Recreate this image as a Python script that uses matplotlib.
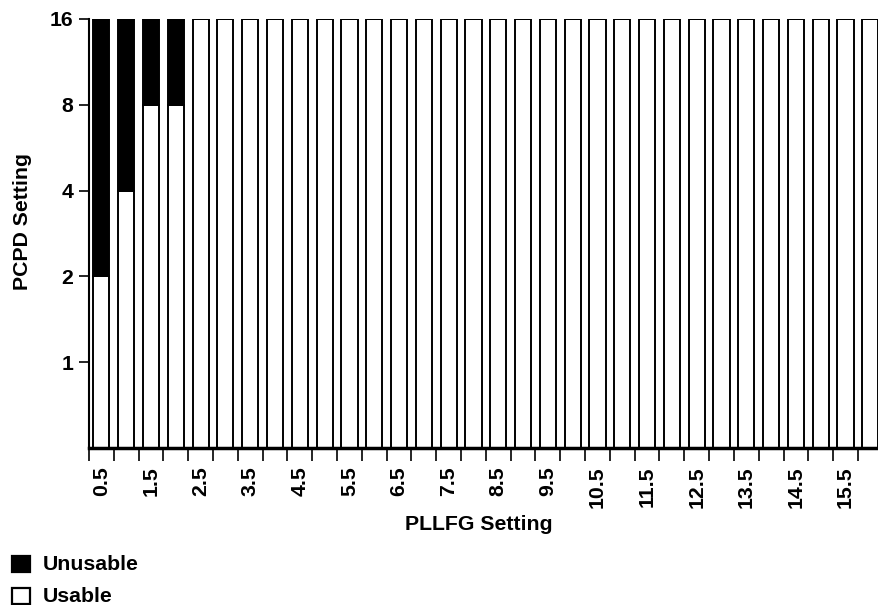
import matplotlib
matplotlib.use("Agg")
import matplotlib.pyplot as plt
from matplotlib.patches import Rectangle
from matplotlib.ticker import FixedLocator, NullFormatter

plt.rcParams['font.family'] = ['Liberation Sans', 'DejaVu Sans']
plt.rcParams['font.weight'] = 'bold'

# PLLFG settings (0.5 to 16 in steps of 0.5)
pllfg = [0.5 * (i + 1) for i in range(32)]
# Highest usable PCPD setting for each PLLFG value
usable = [2, 4, 8, 8] + [16] * 28
# Highest PCPD setting tested
max_setting = [16] * 32
tick_labels = [f"{v:g}" for v in pllfg[::2]]
legend_labels = ['Unusable', 'Usable']
legend_colors = ['black', 'white']

unusable = [m - u for m, u in zip(max_setting, usable)]
pos = list(range(len(pllfg)))
floor = 0.5
fs = 15.3

W, H = 879, 605
fig = plt.figure(figsize=(W / 100, H / 100), dpi=100)
ax = fig.add_axes([89 / W, 1 - 448 / H, 1 - 89 / W, (448 - 19) / H])

bw = 0.65
ax.bar(pos, [u - floor for u in usable], bottom=floor, width=bw,
       color='white', edgecolor='black', linewidth=1.4)
ax.bar(pos, unusable, bottom=usable, width=bw,
       color='black', edgecolor='black', linewidth=1.4)

ax.set_yscale('log', base=2)
ax.set_ylim(0.5, 16)
ax.set_yticks([1, 2, 4, 8, 16])
ax.set_yticklabels(['1', '2', '4', '8', '16'])
ax.yaxis.set_minor_locator(FixedLocator([]))
ax.tick_params(axis='y', which='major', length=7, width=1.2, labelsize=fs, pad=4.5)

ax.set_xlim(-0.5, 31.35)
ax.xaxis.set_major_locator(FixedLocator([p - 0.5 for p in pos]))
ax.xaxis.set_major_formatter(NullFormatter())
ax.xaxis.set_minor_locator(FixedLocator(pos[::2]))
ax.set_xticklabels(tick_labels, minor=True, rotation=90)
ax.tick_params(axis='x', which='major', length=9, width=1.2)
ax.tick_params(axis='x', which='minor', length=0, labelsize=fs, pad=13)

for s in ['top', 'right']:
    ax.spines[s].set_visible(False)
ax.spines['left'].set_linewidth(1.5)
ax.spines['bottom'].set_linewidth(2.5)

fig.text(479 / W, 1 - 525 / H, 'PLLFG Setting', fontsize=fs,
         fontweight='bold', ha='center', va='center')
fig.text(23 / W, 1 - 222 / H, 'PCPD Setting', rotation=90, fontsize=fs,
         fontweight='bold', ha='center', va='center')

# Legend: swatch squares with labels at lower left
for i, (lab, col) in enumerate(zip(legend_labels, legend_colors)):
    yc = 564 + 32 * i
    fig.patches.append(Rectangle((12.5 / W, 1 - (yc + 8) / H), 17 / W, 16 / H,
                                 transform=fig.transFigure, facecolor=col,
                                 edgecolor='black', linewidth=1.6))
    fig.text(43 / W, 1 - yc / H, lab, fontsize=fs, fontweight='bold',
             ha='left', va='center')

fig.savefig('out.png', dpi=100)
